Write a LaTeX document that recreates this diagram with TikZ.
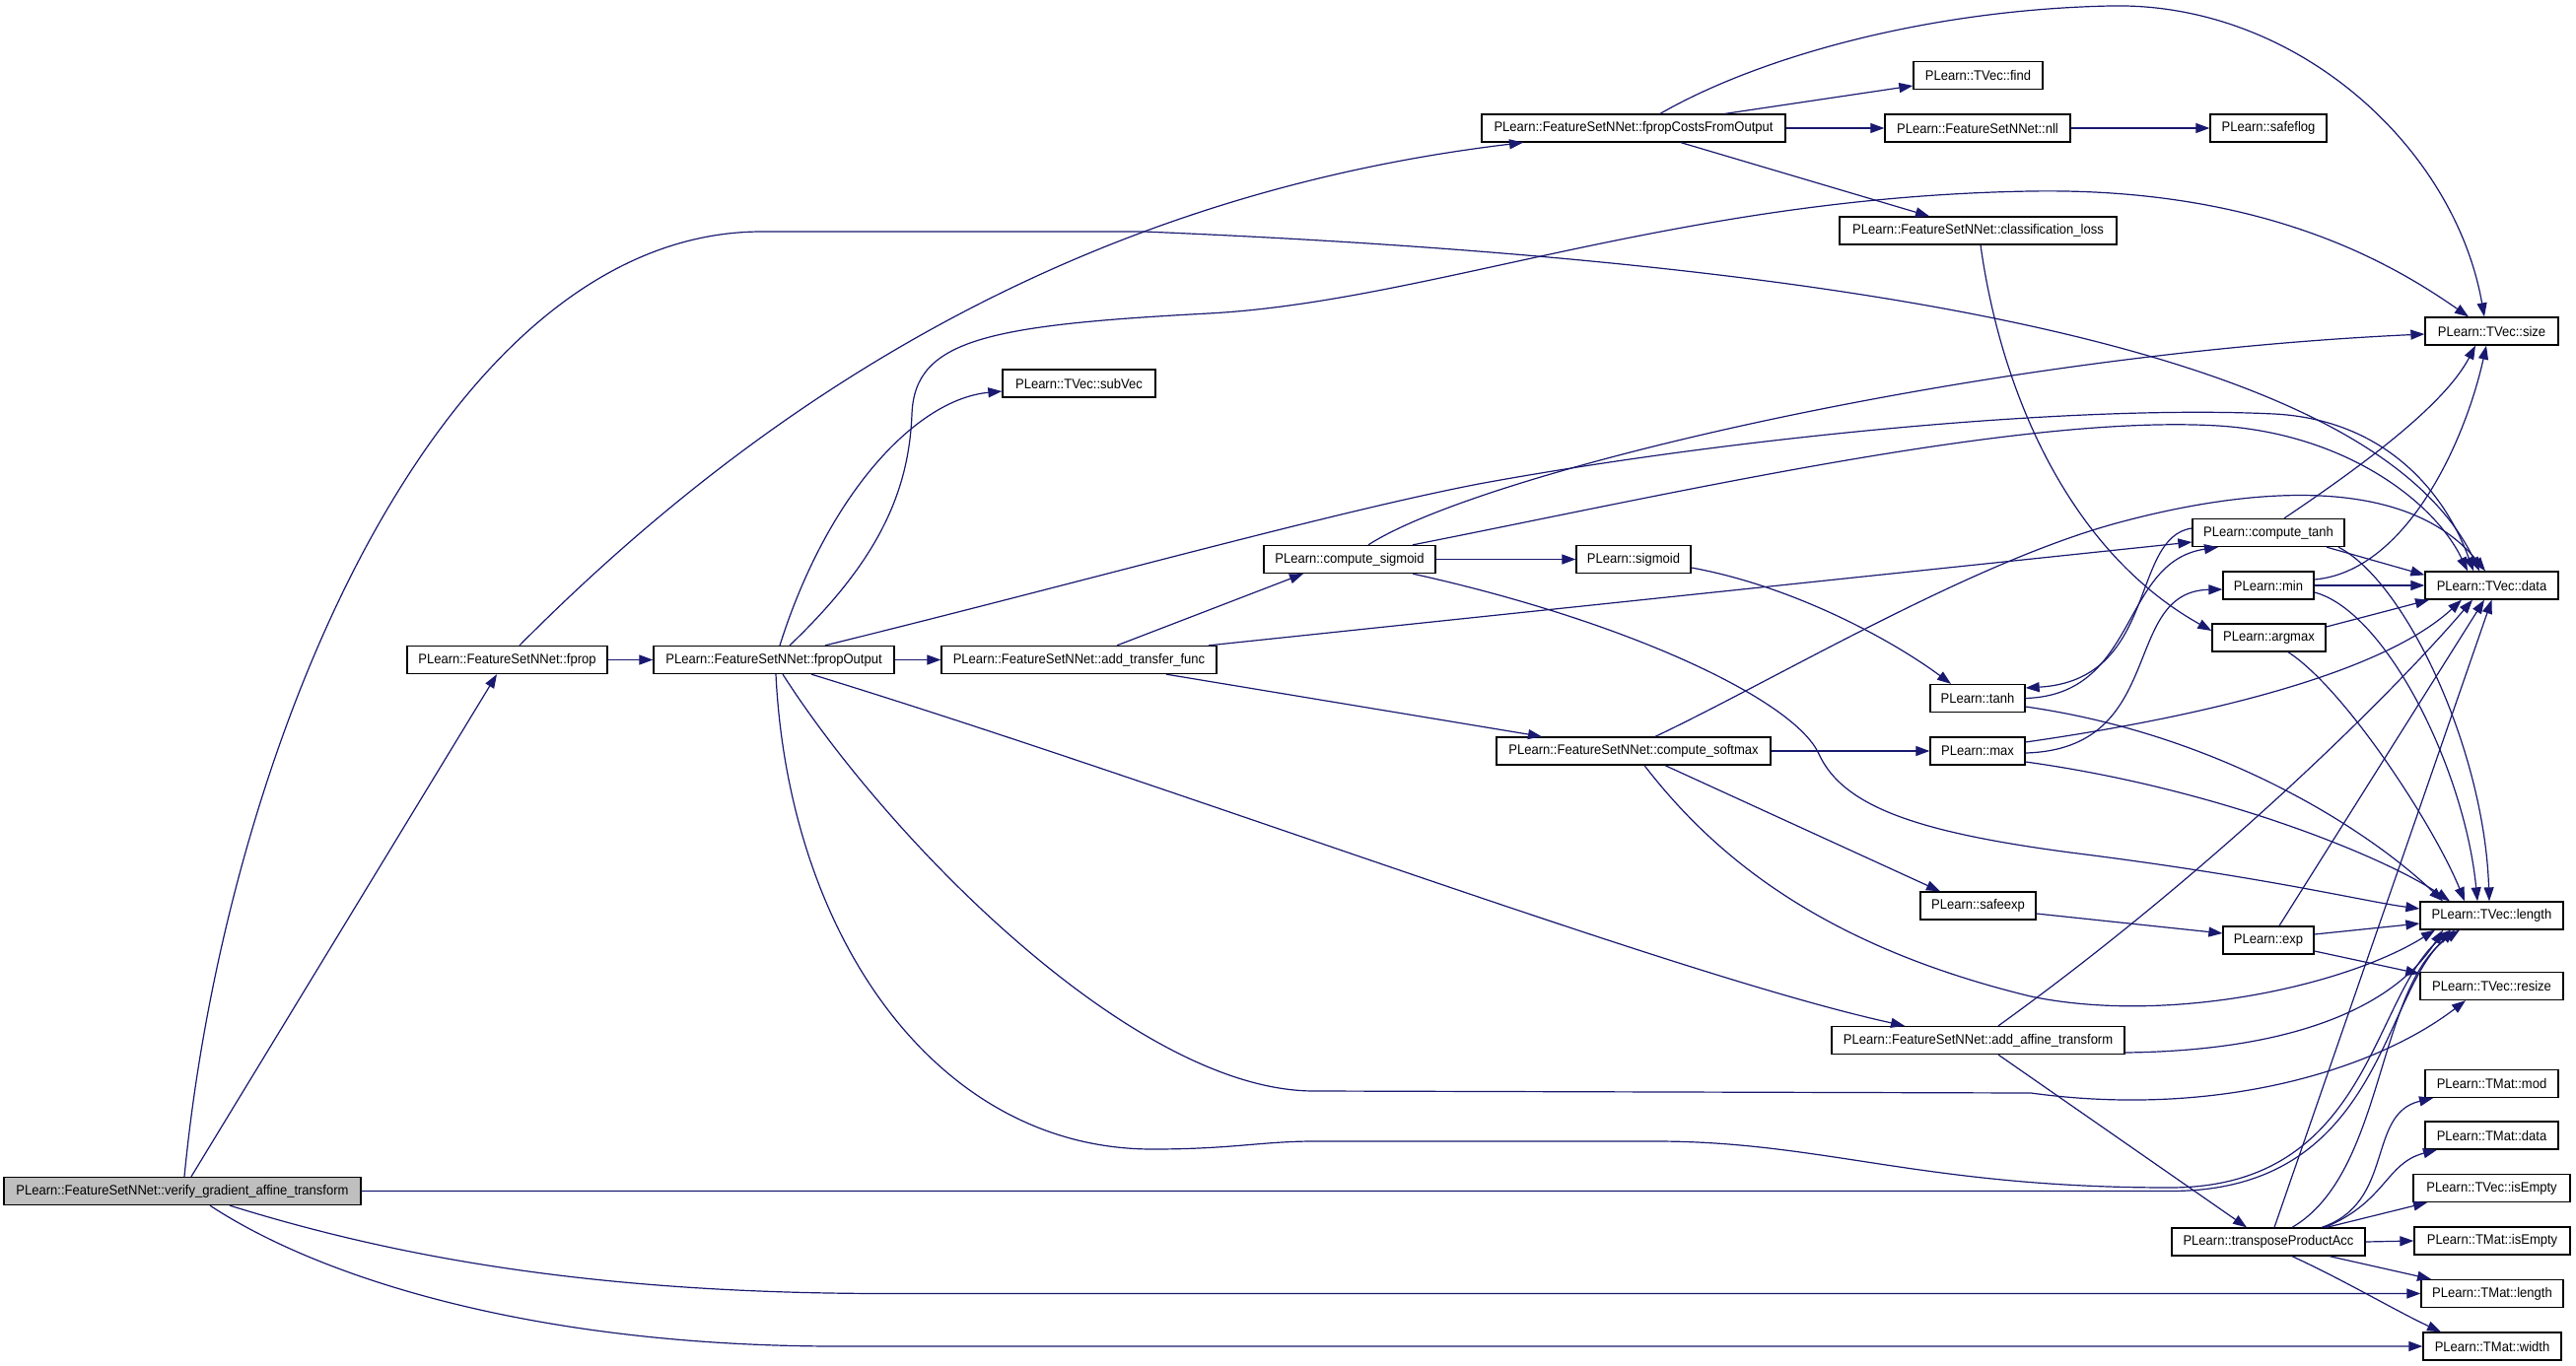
\documentclass[tikz,border=0pt]{standalone}
\usepackage{fontspec}
\setmainfont{Liberation Sans}[FakeStretch=0.93]
\usetikzlibrary{arrows.meta}
\definecolor{edgecol}{HTML}{191970}
\definecolor{rootfill}{HTML}{BFBFBF}
\begin{document}
\begin{tikzpicture}[x=1pt,y=-1pt,
  fbox/.style={draw=black, line width=1.3pt, minimum height=28pt, inner sep=0pt,
    font=\fontsize{14}{16}\selectfont, text=black, fill=white},
  call/.style={draw=edgecol, line width=1.2pt, -{Triangle[length=14pt,width=10pt]}}]
\useasboundingbox (0,0) rectangle (2613,1386);
\fill[white] (0,0) rectangle (2613,1386);

% ---------- nodes ----------
\node[fbox, fill=rootfill, minimum width=362pt] (verify) at (185,1208.5) {PLearn::FeatureSetNNet::verify\_gradient\_affine\_transform};
\node[fbox, minimum width=203pt] (fprop) at (514.5,669.5) {PLearn::FeatureSetNNet::fprop};
\node[fbox, minimum width=244pt] (fpout) at (785,669.5) {PLearn::FeatureSetNNet::fpropOutput};
\node[fbox, minimum width=308pt] (fpcost) at (1657,130) {PLearn::FeatureSetNNet::fpropCostsFromOutput};
\node[fbox, minimum width=131pt] (find) at (2006.5,76.5) {PLearn::TVec::find};
\node[fbox, minimum width=188pt] (nll) at (2006,130) {PLearn::FeatureSetNNet::nll};
\node[fbox, minimum width=118pt] (safeflog) at (2301,130) {PLearn::safeflog};
\node[fbox, minimum width=281pt] (closs) at (2006.5,234) {PLearn::FeatureSetNNet::classification\_loss};
\node[fbox, minimum width=135pt] (size) at (2527.5,336) {PLearn::TVec::size};
\node[fbox, minimum width=155pt] (subvec) at (1094.5,389) {PLearn::TVec::subVec};
\node[fbox, minimum width=174pt] (csig) at (1369,567.5) {PLearn::compute\_sigmoid};
\node[fbox, minimum width=116pt] (sigmoid) at (1657,567.5) {PLearn::sigmoid};
\node[fbox, minimum width=279pt] (atf) at (1094.5,669.5) {PLearn::FeatureSetNNet::add\_transfer\_func};
\node[fbox, minimum width=154pt] (ctanh) at (2301,540.5) {PLearn::compute\_tanh};
\node[fbox, minimum width=135pt] (data) at (2527.5,594) {PLearn::TVec::data};
\node[fbox, minimum width=92pt] (min) at (2301,594) {PLearn::min};
\node[fbox, minimum width=115pt] (argmax) at (2301.5,647) {PLearn::argmax};
\node[fbox, minimum width=96pt] (tanh) at (2006,708.5) {PLearn::tanh};
\node[fbox, minimum width=278pt] (csoft) at (1657,762) {PLearn::FeatureSetNNet::compute\_softmax};
\node[fbox, minimum width=96pt] (max) at (2006,762) {PLearn::max};
\node[fbox, minimum width=117pt] (safeexp) at (2006.5,919) {PLearn::safeexp};
\node[fbox, minimum width=92pt] (exp) at (2301,954) {PLearn::exp};
\node[fbox, minimum width=145pt] (length) at (2527.5,929) {PLearn::TVec::length};
\node[fbox, minimum width=145pt] (resize) at (2527.5,1000.5) {PLearn::TVec::resize};
\node[fbox, minimum width=297pt] (aat) at (2006.5,1055.5) {PLearn::FeatureSetNNet::add\_affine\_transform};
\node[fbox, minimum width=135pt] (mod) at (2527.5,1099.5) {PLearn::TMat::mod};
\node[fbox, minimum width=135pt] (tmdata) at (2527.5,1152) {PLearn::TMat::data};
\node[fbox, minimum width=159pt] (visempty) at (2527.5,1205.5) {PLearn::TVec::isEmpty};
\node[fbox, minimum width=196pt] (tpa) at (2301,1260) {PLearn::transposeProductAcc};
\node[fbox, minimum width=158pt] (misempty) at (2528,1259) {PLearn::TMat::isEmpty};
\node[fbox, minimum width=144pt] (mlength) at (2528,1312.5) {PLearn::TMat::length};
\node[fbox, minimum width=140pt] (mwidth) at (2528,1366) {PLearn::TMat::width};

% ---------- connectors ----------
% verify
\draw[call] ([xshift=9pt]verify.north) -- ([xshift=-10.5pt]fprop.south);
\draw[call] ([xshift=2pt]verify.north) .. controls (230,750) and (450,235) .. (773,235)
  -- (1160,235) .. controls (2000,270) and (2420,380) .. ([xshift=-12.5pt]data.north);
\draw[call] (verify.east) -- (2201,1208.5) .. controls (2415,1209) and (2415,1010) .. ([xshift=-37.5pt]length.south);
\draw[call] ([xshift=48pt]verify.south) .. controls (400,1275) and (600,1312.5) .. (900,1312.5) -- (mlength.west);
\draw[call] ([xshift=28pt]verify.south) .. controls (330,1300) and (550,1366) .. (850,1366) -- (mwidth.west);

% fprop
\draw[call] (fprop.east) -- (fpout.west);
\draw[call] ([xshift=12.5pt]fprop.north) .. controls (760,420) and (1080,200) .. ([xshift=-112pt]fpcost.south);

% fpropOutput
\draw[call] ([xshift=6pt]fpout.north) .. controls (840,500) and (930,405) .. ([yshift=-8pt]subvec.west);
\draw[call] ([xshift=16pt]fpout.north) .. controls (890,570) and (922,500) .. (925,420)
  .. controls (928,345) and (1000,330) .. (1226,318)
  .. controls (1450,306) and (1700,200) .. (2060,194)
  .. controls (2300,190) and (2430,270) .. ([xshift=-23.5pt]size.north);
\draw[call] (fpout.east) -- (atf.west);
\draw[call] ([xshift=52pt]fpout.north) .. controls (1100,590) and (1350,520) .. (1500,491)
  .. controls (1750,445) and (2100,410) .. (2307,420)
  .. controls (2420,426) and (2480,500) .. ([xshift=-18.5pt]data.north);
\draw[call] ([xshift=38pt]fpout.south) .. controls (1200,800) and (1700,990) .. ([xshift=-74.5pt]aat.north);
\draw[call] ([xshift=9pt]fpout.south) .. controls (900,850) and (1150,1107) .. (1333,1107)
  -- (2060,1109) .. controls (2250,1135) and (2410,1085) .. ([xshift=-26.5pt]resize.south);
\draw[call] ([xshift=2pt]fpout.south) .. controls (800,950) and (950,1166) .. (1169,1166)
  .. controls (1250,1166) and (1280,1158) .. (1333,1158) -- (1679,1158)
  .. controls (1850,1158) and (1950,1205) .. (2201,1205)
  .. controls (2405,1205) and (2405,1010) .. ([xshift=-41.5pt]length.south);

% add_transfer_func
\draw[call] ([xshift=38.5pt]atf.north) -- ([xshift=-47pt]csig.south);
\draw[call] ([xshift=131.5pt]atf.north) -- ([yshift=-9.5pt]ctanh.west);
\draw[call] ([xshift=88.5pt]atf.south) -- ([xshift=-93pt]csoft.north);

% compute_sigmoid
\draw[call] (csig.east) -- (sigmoid.west);
\draw[call] ([xshift=19pt]csig.north) .. controls (1500,480) and (2000,360) .. ([yshift=-3pt]size.west);
\draw[call] ([xshift=64pt]csig.north) .. controls (1700,500) and (2050,420) .. (2250,432)
  .. controls (2380,440) and (2470,510) .. ([xshift=-24.5pt]data.north);
\draw[call] ([xshift=64pt]csig.south) .. controls (1650,630) and (1820,710) .. (1845,765)
  .. controls (1870,820) and (1950,845) .. (2100,865)
  .. controls (2300,890) and (2400,915) .. ([yshift=7pt]length.west);

% sigmoid
\draw[call] ([yshift=-8.5pt]sigmoid.east) .. controls (1820,595) and (1920,650) .. ([xshift=-27pt]tanh.north);

% compute_softmax
\draw[call] (csoft.east) -- (max.west);
\draw[call] ([xshift=32pt]csoft.south) -- ([xshift=-38.5pt]safeexp.north);
\draw[call] ([xshift=22pt]csoft.north) .. controls (1800,690) and (2000,570) .. (2150,530)
  .. controls (2280,495) and (2440,480) .. ([xshift=-6.5pt]data.north);
\draw[call] ([xshift=11pt]csoft.south) .. controls (1740,870) and (1850,960) .. (2060,1011)
  .. controls (2200,1040) and (2380,1000) .. ([xshift=-57.5pt]length.south);

% max
\draw[call] ([yshift=-2pt]max.east) .. controls (2200,760) and (2150,600) .. ([yshift=-4pt]min.west);
\draw[call] ([yshift=9pt]max.east) .. controls (2250,725) and (2420,680) .. ([xshift=-30.5pt]data.south);
\draw[call] ([yshift=-11pt]max.east) .. controls (2250,800) and (2420,870) .. ([xshift=-42.5pt]length.north);

% tanh / compute_tanh
\draw[call] ([yshift=4.5pt]ctanh.west) .. controls (2160,545) and (2190,690) .. ([yshift=10.5pt]tanh.east);
\draw[call] (tanh.east) .. controls (2170,705) and (2150,570) .. ([xshift=-51pt]ctanh.south);
\draw[call] ([yshift=-8.5pt]tanh.east) .. controls (2250,745) and (2400,840) .. ([xshift=-49.5pt]length.north);
\draw[call] ([xshift=16pt]ctanh.north) .. controls (2400,470) and (2480,410) .. ([xshift=-16.5pt]size.south);
\draw[call] ([xshift=59pt]ctanh.south) -- ([yshift=-4pt]data.north west);
\draw[call] ([xshift=71pt]ctanh.south) .. controls (2440,590) and (2520,760) .. ([xshift=-2.5pt]length.north);

% min
\draw[call] ([yshift=6pt]min.east) .. controls (2440,580) and (2500,450) .. ([xshift=-5.5pt]size.south);
\draw[call] (min.east) -- (data.west);
\draw[call] ([yshift=-7pt]min.east) .. controls (2420,620) and (2500,780) .. ([xshift=-14.5pt]length.north);

% argmax
\draw[call] ([yshift=11pt]argmax.east) -- ([xshift=-63.5pt]data.south);
\draw[call] ([xshift=19.5pt]argmax.south) .. controls (2380,700) and (2470,840) .. ([xshift=-27.5pt]length.north);

% fpropCostsFromOutput
\draw[call] ([xshift=27pt]fpcost.north) .. controls (1780,60) and (1950,10) .. (2141,6)
  .. controls (2330,2) and (2490,150) .. ([xshift=-7.5pt]size.north);
\draw[call] ([xshift=93pt]fpcost.north) -- ([yshift=-10.5pt]find.west);
\draw[call] (fpcost.east) -- (nll.west);
\draw[call] ([xshift=48pt]fpcost.south) -- ([xshift=-49.5pt]closs.north);
\draw[call] (nll.east) -- (safeflog.west);
\draw[call] ([xshift=2.5pt]closs.south) .. controls (2030,400) and (2100,560) .. ([yshift=7pt]argmax.west);

% safeexp / exp
\draw[call] ([yshift=-8pt]safeexp.east) -- ([yshift=7pt]exp.west);
\draw[call] ([xshift=11pt]exp.north) -- ([xshift=-7.5pt]data.south);
\draw[call] ([yshift=6pt]exp.east) -- ([yshift=-8pt]length.west);
\draw[call] ([yshift=-11pt]exp.east) -- ([yshift=12.5pt]resize.west);

% add_affine_transform
\draw[call] ([xshift=20.5pt]aat.north) .. controls (2250,880) and (2430,700) .. ([xshift=-19.5pt]data.south);
\draw[call] ([yshift=-12.5pt]aat.east) .. controls (2330,1066) and (2430,1020) .. ([xshift=-49.5pt]length.south);
\draw[call] ([xshift=20.5pt]aat.south) -- ([xshift=-22pt]tpa.north);

% transposeProductAcc
\draw[call] ([xshift=6pt]tpa.north) -- (data.south);
\draw[call] ([xshift=24pt]tpa.north) .. controls (2420,1190) and (2410,1000) .. ([xshift=-32.5pt]length.south);
\draw[call] ([xshift=54pt]tpa.north) .. controls (2430,1220) and (2400,1130) .. ([xshift=-59.5pt]mod.south);
\draw[call] ([xshift=57pt]tpa.north) .. controls (2420,1220) and (2420,1180) .. ([xshift=-55.5pt]tmdata.south);
\draw[call] ([xshift=59pt]tpa.north) -- ([xshift=-65.5pt]visempty.south);
\draw[call] (tpa.east) -- (misempty.west);
\draw[call] ([xshift=62pt]tpa.south) -- ([xshift=-62pt]mlength.north);
\draw[call] ([xshift=24pt]tpa.south) .. controls (2380,1300) and (2430,1330) .. ([xshift=-52pt]mwidth.north);
\end{tikzpicture}
\end{document}
